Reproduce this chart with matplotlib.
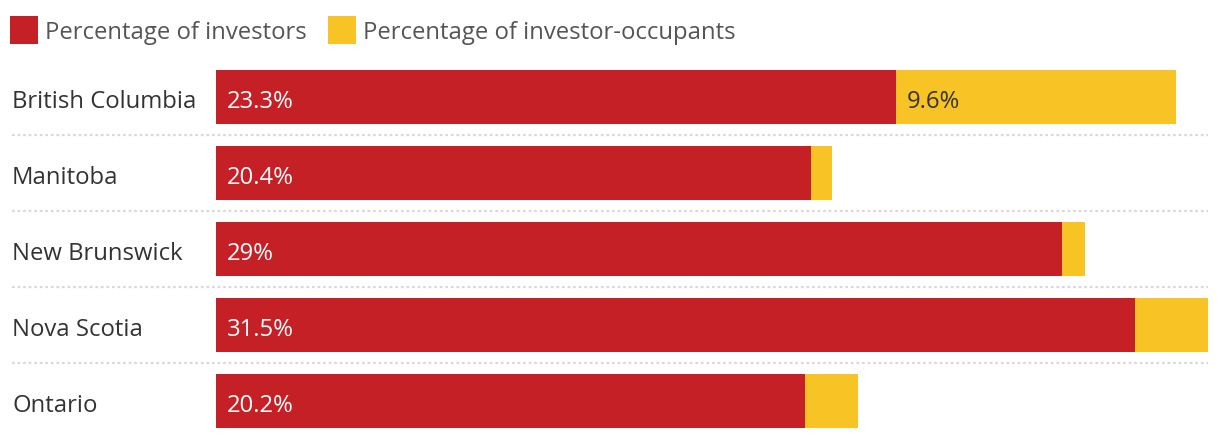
import matplotlib
matplotlib.use("Agg")
import matplotlib.pyplot as plt
from matplotlib.patches import Rectangle

# data
provinces = ["British Columbia", "Manitoba", "New Brunswick", "Nova Scotia", "Ontario"]
investors = [23.3, 20.4, 29.0, 31.5, 20.2]
occupants = [9.6, 0.7, 0.8, 2.5, 1.8]
investor_labels = ["23.3%", "20.4%", "29%", "31.5%", "20.2%"]
occupant_labels = ["9.6%", "", "", "", ""]

RED = "#C42026"
YELLOW = "#F7C325"
W, H = 1220, 440
FS = 17.2

plt.rcParams['font.family'] = ['Open Sans', 'DejaVu Sans']

fig = plt.figure(figsize=(W / 100, H / 100), dpi=100)
# axes: 216..1208 px horizontally, rows from y=59 to 439 px
ax = fig.add_axes([216 / W, 1 / H, 992 / W, 380 / H])
ax.set_xlim(0, 34)
ax.set_ylim(len(provinces) - 0.5, -0.5)
ax.axis("off")

ys = range(len(provinces))
ax.barh(ys, investors, height=54 / 76, color=RED, linewidth=0)
ax.barh(ys, occupants, left=investors, height=54 / 76, color=YELLOW, linewidth=0)

px = 1 / 992  # one pixel in axes fraction
base = 10.5 / 76  # baseline offset below the row centre
for i, name in enumerate(provinces):
    ax.text((12 - 216) * px, i + base, name, transform=ax.get_yaxis_transform(),
            ha="left", va="baseline", fontsize=FS, color="#333333")
    ax.text(11 / 29.18, i + base, investor_labels[i], ha="left", va="baseline",
            fontsize=FS, color="white")
    if occupant_labels[i]:
        ax.text(investors[i] + 11 / 29.18, i + base, occupant_labels[i], ha="left",
                va="baseline", fontsize=FS, color="#333333")

# dotted separators between rows
for i in range(len(provinces) - 1):
    ax.plot([(12 - 216) * px, 1.0], [i + 0.5, i + 0.5], transform=ax.get_yaxis_transform(),
            color="#d9d9d9", linewidth=1.6, linestyle=(0, (1.2, 1.3)), clip_on=False)

# legend
legend_items = [("Percentage of investors", RED, 10), ("Percentage of investor-occupants", YELLOW, 328)]
for text, col, x0 in legend_items:
    fig.add_artist(Rectangle((x0 / W, 1 - 44 / H), 28 / W, 28 / H, transform=fig.transFigure,
                             facecolor=col, edgecolor="none"))
    fig.text((x0 + 35) / W, 1 - 39 / H, text, ha="left", va="baseline",
             fontsize=FS, color="#555555")

fig.savefig("out.png", dpi=100)
